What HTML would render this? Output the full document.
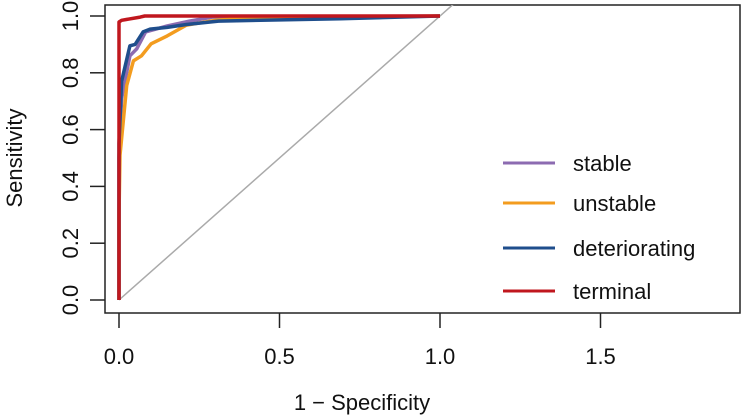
<!DOCTYPE html>
<html><head><meta charset="utf-8"><style>
html,body{margin:0;padding:0;background:#fff;}
svg{display:block;font-family:"Liberation Sans",Arial,sans-serif;}
</style></head><body>
<svg id="chart" width="744" height="416">
<g id="axes"></g><g id="plot" clip-path="url(#clip)"></g><g id="legend"></g>
<defs><clipPath id="clip"><rect x="105" y="5" width="635" height="308"/></clipPath></defs>
</svg>
<script>
const xTicks=[0,0.5,1.0,1.5];
const xTickLabels=["0.0","0.5","1.0","1.5"];
const yTicks=[0,0.2,0.4,0.6,0.8,1.0];
const yTickLabels=["0.0","0.2","0.4","0.6","0.8","1.0"];
const seriesNames=["stable","unstable","deteriorating","terminal"];
const seriesColors=["#8c6bb1","#f39c1f","#1f4e8c","#c0171e"];
const stableFpr=[0,0,0.008,0.034,0.055,0.083,0.15,0.22,0.29,1];
const stableTpr=[0,0.5,0.71,0.86,0.884,0.944,0.965,0.982,0.996,1];
const unstableFpr=[0,0,0.003,0.024,0.045,0.07,0.1,0.15,0.21,0.3,0.4,1];
const unstableTpr=[0,0.3,0.51,0.755,0.842,0.86,0.902,0.93,0.968,0.985,0.993,1];
const detFpr=[0,0,0.008,0.034,0.05,0.075,0.097,0.15,0.21,0.31,0.69,1];
const detTpr=[0,0.55,0.77,0.895,0.9,0.944,0.954,0.96,0.97,0.982,0.99,1];
const termFpr=[0,0,0.008,0.066,0.08,1];
const termTpr=[0,0.979,0.985,0.996,1,1];
const fprs=[stableFpr,unstableFpr,detFpr,termFpr];
const tprs=[stableTpr,unstableTpr,detTpr,termTpr];
const NS="http://www.w3.org/2000/svg";
const X=v=>119+v*321, Y=v=>300-v*284;
function mk(t,a,p){const e=document.createElementNS(NS,t);for(const k in a)e.setAttribute(k,a[k]);p.appendChild(e);return e;}
const axes=document.getElementById('axes'),plot=document.getElementById('plot'),leg=document.getElementById('legend');
let box=mk('rect',{x:105,y:5,width:635,height:308,fill:'none',stroke:'#222','stroke-width':1.5},axes);

xTicks.forEach((t,i)=>{
 let l=mk('line',{x1:X(t),x2:X(t),y1:313,y2:328,stroke:'#222','stroke-width':1.5},axes);
 
 let tx=mk('text',{x:X(t),y:364,'font-size':22,'text-anchor':'middle',fill:'#111'},axes);tx.textContent=xTickLabels[i];
 
});
yTicks.forEach((t,i)=>{
 let l=mk('line',{x1:90,x2:105,y1:Y(t),y2:Y(t),stroke:'#222','stroke-width':1.5},axes);
 
 let tx=mk('text',{x:0,y:0,'font-size':22,'text-anchor':'middle',fill:'#111',transform:`translate(78,${Y(t)}) rotate(-90)`},axes);tx.textContent=yTickLabels[i];
 
});
let xt=mk('text',{x:362,y:410,'font-size':22,'text-anchor':'middle',fill:'#111'},axes);xt.textContent='1 − Specificity';

let yt=mk('text',{x:0,y:0,'font-size':22,'text-anchor':'middle',fill:'#111',transform:'translate(22,158) rotate(-90)'},axes);yt.textContent='Sensitivity';

let dg=mk('line',{x1:X(0),y1:Y(0),x2:X(1.2),y2:Y(1.2),stroke:'#aaa','stroke-width':1.5},plot);

const legYs=[163,203,248,291];
fprs.forEach((f,s)=>{
 const pts=f.map((v,i)=>X(v).toFixed(1)+','+Y(tprs[s][i]).toFixed(1)).join(' ');
 let p=mk('polyline',{points:pts,fill:'none',stroke:seriesColors[s],'stroke-width':3.5,'stroke-linejoin':'round'},plot);
 
 const ly=legYs[s];
 let ll=mk('line',{x1:503,x2:555,y1:ly,y2:ly,stroke:seriesColors[s],'stroke-width':3},leg);
 
 let lt=mk('text',{x:573,y:ly+8,'font-size':22,fill:'#111'},leg);lt.textContent=seriesNames[s];
 
});
</script>
</body></html>
